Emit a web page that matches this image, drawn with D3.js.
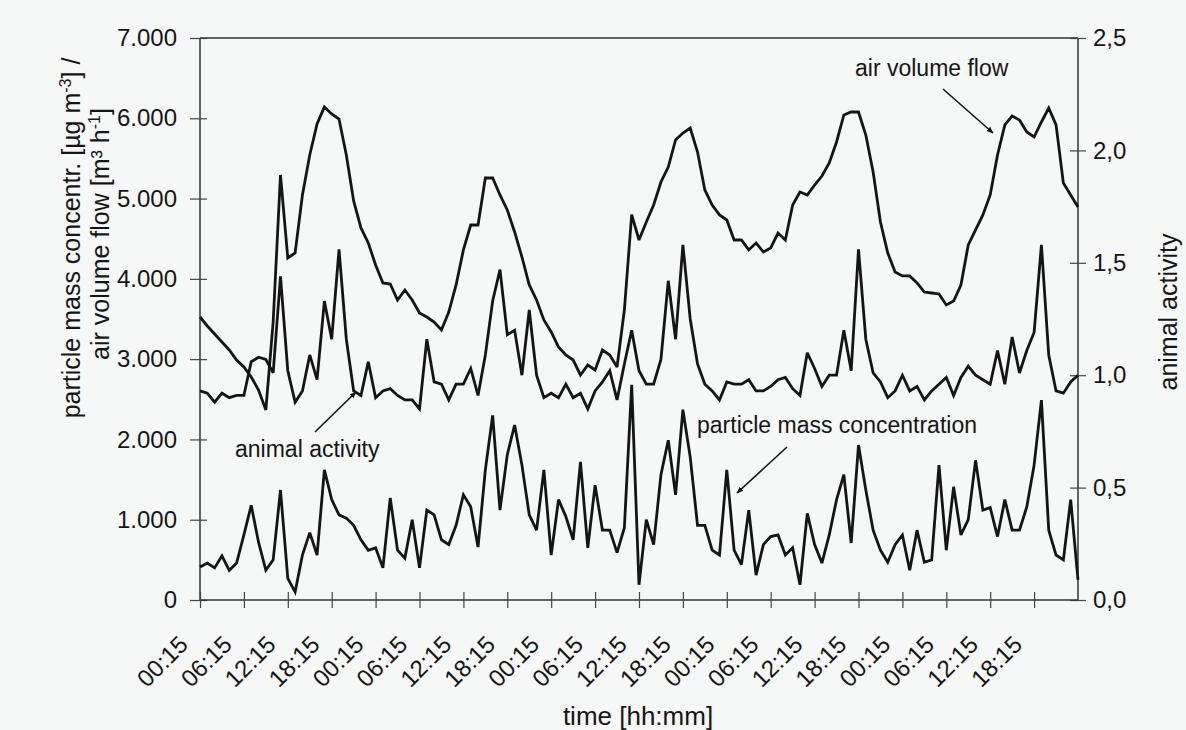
<!DOCTYPE html>
<html lang="en">
<head>
<meta charset="UTF-8">
<title>Air volume flow, animal activity and particle mass concentration</title>
<script src="https://d3js.org/d3.v7.min.js"></script>
<style>
  body { margin: 0; background: #f6f7f7; }
  svg { display: block; font-family: Arial, "Liberation Sans", sans-serif; }
</style>
</head>
<body>
<script>
// hourly readings, index 0 = 00:15 of day 1, index 120 = 00:15 of day 6
const hours = d3.range(0, 121);

const tickHours = [0, 6, 12, 18, 24, 30, 36, 42, 48, 54, 60, 66, 72, 78, 84, 90, 96, 102, 108, 114];
const tickLabels = ["00:15", "06:15", "12:15", "18:15", "00:15", "06:15", "12:15", "18:15",
                    "00:15", "06:15", "12:15", "18:15", "00:15", "06:15", "12:15", "18:15",
                    "00:15", "06:15", "12:15", "18:15"];

// air volume flow [m3 h-1] (left axis)
const airFlow = [3525, 3413, 3313, 3214, 3114, 2989, 2902, 2778, 2616, 2367,
                 3463, 5294, 4260, 4322, 5045, 5543, 5929, 6141, 6054, 5991,
                 5543, 4970, 4634, 4447, 4173, 3949, 3936, 3737, 3861, 3737,
                 3575, 3525, 3463, 3363, 3587, 3924, 4360, 4671, 4671, 5256,
                 5256, 5045, 4858, 4584, 4272, 3924, 3737, 3488, 3338, 3151,
                 3052, 2989, 2803, 2927, 2865, 3114, 3052, 2902, 3612, 4800,
                 4484, 4708, 4920, 5207, 5393, 5730, 5817, 5879, 5580, 5107,
                 4920, 4796, 4733, 4484, 4484, 4360, 4447, 4335, 4385, 4571,
                 4484, 4920, 5082, 5045, 5169, 5281, 5443, 5705, 6041, 6078,
                 6078, 5792, 5331, 4708, 4322, 4086, 4036, 4036, 3949, 3836,
                 3824, 3812, 3675, 3724, 3924, 4422, 4609, 4796, 5045, 5543,
                 5917, 6029, 5979, 5829, 5767, 5954, 6128, 5917, 5194, 5045,
                 4895];

// animal activity (right axis)
const activity = [0.93, 0.92, 0.88, 0.92, 0.90, 0.91, 0.91, 1.06, 1.08, 1.07,
                  1.01, 1.44, 1.02, 0.88, 0.93, 1.09, 0.98, 1.33, 1.16, 1.56,
                  1.16, 0.93, 0.91, 1.06, 0.90, 0.93, 0.94, 0.91, 0.89, 0.89,
                  0.85, 1.16, 0.97, 0.96, 0.89, 0.96, 0.96, 1.03, 0.91, 1.09,
                  1.33, 1.47, 1.18, 1.20, 1.00, 1.29, 1.00, 0.90, 0.92, 0.90,
                  0.96, 0.90, 0.92, 0.85, 0.93, 0.97, 1.02, 0.89, 1.05, 1.20,
                  1.02, 0.96, 0.96, 1.07, 1.42, 1.16, 1.58, 1.25, 1.05, 0.96,
                  0.93, 0.89, 0.97, 0.96, 0.96, 0.98, 0.93, 0.93, 0.95, 0.98,
                  0.99, 0.94, 0.91, 1.10, 1.03, 0.95, 1.00, 1.00, 1.20, 1.02,
                  1.56, 1.16, 1.01, 0.97, 0.90, 0.93, 1.00, 0.93, 0.95, 0.89,
                  0.93, 0.96, 0.99, 0.91, 0.99, 1.04, 1.00, 0.98, 0.96, 1.11,
                  0.96, 1.17, 1.01, 1.11, 1.19, 1.58, 1.09, 0.93, 0.92, 0.97,
                  1.00];

// particle mass concentration [ug m-3] (left axis)
const particles = [410, 460, 400, 550, 370, 460, 810, 1180, 720, 370,
                   500, 1370, 270, 100, 560, 840, 560, 1620, 1250, 1060,
                   1020, 930, 750, 620, 650, 400, 1270, 620, 520, 1000,
                   400, 1120, 1060, 750, 690, 930, 1310, 1160, 660, 1620,
                   2300, 1120, 1810, 2180, 1680, 1060, 870, 1620, 560, 1250,
                   1040, 750, 1720, 650, 1430, 870, 870, 590, 900, 2680,
                   190, 1000, 690, 1560, 1990, 1310, 2370, 1780, 930, 930,
                   620, 560, 1620, 620, 440, 1120, 310, 690, 790, 810,
                   560, 650, 190, 1080, 690, 460, 810, 1250, 1560, 710,
                   1930, 1370, 870, 620, 470, 690, 810, 370, 870, 470,
                   500, 1680, 620, 1410, 810, 1000, 1740, 1120, 1150, 790,
                   1250, 870, 870, 1160, 1680, 2490, 870, 560, 500, 1250,
                   250];

const leftTicks = [0, 1000, 2000, 3000, 4000, 5000, 6000, 7000];
const rightTicks = [0, 0.5, 1, 1.5, 2, 2.5];

const W = 1186, H = 730;
const plotL = 200, plotR = 1078, plotT = 38, plotB = 600;
const ink = "#151515";

const de = d3.formatLocale({decimal: ",", thousands: ".", grouping: [3], currency: ["", ""]});

const svg = d3.select("body").append("svg")
    .attr("width", W)
    .attr("height", H);

const x = d3.scaleLinear().domain([0, 120]).range([plotL, plotR]);
const yL = d3.scaleLinear().domain([0, 7000]).range([plotB, plotT]);
const yR = d3.scaleLinear().domain([0, 2.5]).range([plotB, plotT]);

// frame top line
svg.append("line")
    .attr("x1", plotL).attr("x2", plotR)
    .attr("y1", plotT).attr("y2", plotT)
    .attr("stroke", "#333").attr("stroke-width", 1.5);

// left axis
const gL = svg.append("g")
    .attr("transform", `translate(${plotL},0)`)
    .call(d3.axisLeft(yL).tickValues(leftTicks).tickSize(10).tickPadding(13)
        .tickFormat(d => d === 0 ? "0" : de.format(",")(d)));

// right axis
const gR = svg.append("g")
    .attr("transform", `translate(${plotR},0)`)
    .call(d3.axisRight(yR).tickValues(rightTicks).tickSize(8).tickPadding(7)
        .tickFormat(de.format(".1f")));

// bottom axis
const gB = svg.append("g")
    .attr("transform", `translate(0,${plotB})`)
    .call(d3.axisBottom(x).tickValues(tickHours).tickSize(8)
        .tickFormat((d, i) => tickLabels[i]));

[gL, gR, gB].forEach(g => {
    g.select(".domain").attr("stroke", "#333").attr("stroke-width", 1.5);
    g.selectAll(".tick line").attr("stroke", "#444").attr("stroke-width", 1.2);
    g.selectAll("text").attr("fill", ink).attr("font-size", 24)
        .attr("font-family", "Arial, 'Liberation Sans', sans-serif");
});
gL.select(".domain").attr("d", `M0,${plotT}V${plotB}`);
gR.select(".domain").attr("d", `M0,${plotT}V${plotB}`);
gB.select(".domain").attr("d", `M${plotL},0H${plotR}`);

// ticks cross the axis lines
gL.selectAll(".tick line").attr("x1", 7);
gR.selectAll(".tick line").attr("x1", -8);
gB.selectAll(".tick line").attr("y1", -8);

gB.selectAll(".tick text")
    .attr("text-anchor", "end")
    .attr("dy", 0)
    .attr("y", 0)
    .attr("font-size", 24)
    .attr("transform", "translate(-11,46) rotate(-45)");

// series
const lineStyle = sel => sel
    .attr("fill", "none")
    .attr("stroke", ink)
    .attr("stroke-width", 2.8)
    .attr("stroke-linejoin", "miter")
    .attr("stroke-miterlimit", 3);

svg.append("path")
    .datum(hours)
    .attr("d", d3.line().x(h => x(h)).y(h => yL(airFlow[h])))
    .call(lineStyle);

svg.append("path")
    .datum(hours)
    .attr("d", d3.line().x(h => x(h)).y(h => yR(activity[h])))
    .call(lineStyle);

svg.append("path")
    .datum(hours)
    .attr("d", d3.line().x(h => x(h)).y(h => yL(particles[h])))
    .call(lineStyle);

// axis titles
const yTitle = svg.append("text")
    .attr("transform", "translate(80,238) rotate(-90)")
    .attr("text-anchor", "middle")
    .attr("font-size", 25)
    .attr("fill", ink);
yTitle.append("tspan").text("particle mass concentr. [µg m");
yTitle.append("tspan").attr("dy", -9).attr("font-size", 16).text("-3");
yTitle.append("tspan").attr("dy", 9).text("] /");

const yTitle2 = svg.append("text")
    .attr("transform", "translate(109,234) rotate(-90)")
    .attr("text-anchor", "middle")
    .attr("font-size", 25)
    .attr("fill", ink);
yTitle2.append("tspan").text("air volume flow [m³ h");
yTitle2.append("tspan").attr("dy", -9).attr("font-size", 16).text("-1");
yTitle2.append("tspan").attr("dy", 9).text("]");

svg.append("text")
    .attr("transform", "translate(1177,312) rotate(-90)")
    .attr("text-anchor", "middle")
    .attr("font-size", 25)
    .attr("fill", ink)
    .text("animal activity");

svg.append("text")
    .attr("x", 638).attr("y", 725)
    .attr("text-anchor", "middle")
    .attr("font-size", 26)
    .attr("fill", ink)
    .text("time [hh:mm]");

// annotations with arrows
svg.append("defs").append("marker")
    .attr("id", "arrow")
    .attr("viewBox", "0 0 10 10")
    .attr("refX", 9).attr("refY", 5)
    .attr("markerWidth", 7).attr("markerHeight", 7)
    .attr("markerUnits", "userSpaceOnUse")
    .attr("orient", "auto")
    .append("path")
    .attr("d", "M0,1L10,5L0,9z")
    .attr("fill", ink);

const notes = [
    {text: "air volume flow", tx: 855, ty: 76, x1: 943, y1: 89, x2: 993, y2: 133},
    {text: "animal activity", tx: 235, ty: 457, x1: 315, y1: 432, x2: 356, y2: 392},
    {text: "particle mass concentration", tx: 697, ty: 433, x1: 787, y1: 447, x2: 737, y2: 493}
];

notes.forEach(n => {
    svg.append("text")
        .attr("x", n.tx).attr("y", n.ty)
        .attr("font-size", 23)
        .attr("fill", ink)
        .text(n.text);
    svg.append("line")
        .attr("x1", n.x1).attr("y1", n.y1)
        .attr("x2", n.x2).attr("y2", n.y2)
        .attr("stroke", ink)
        .attr("stroke-width", 1.6)
        .attr("marker-end", "url(#arrow)");
});
</script>
</body>
</html>
